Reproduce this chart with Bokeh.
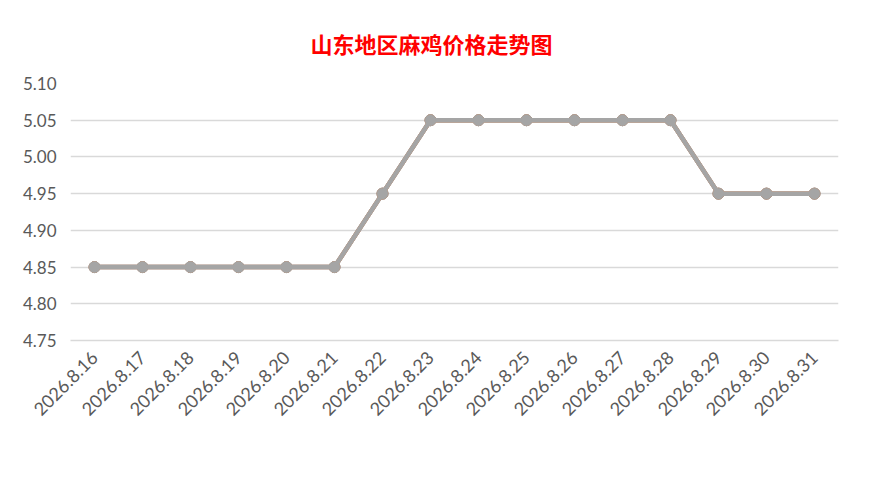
import math
from bokeh.plotting import figure
from bokeh.models import (ColumnDataSource, FactorRange, Range1d, Legend, LegendItem,
                          FixedTicker, NumeralTickFormatter, Title)
from bokeh.embed import file_html
from bokeh.resources import INLINE

dates = ["2026.8.16", "2026.8.17", "2026.8.18", "2026.8.19", "2026.8.20", "2026.8.21",
         "2026.8.22", "2026.8.23", "2026.8.24", "2026.8.25", "2026.8.26", "2026.8.27",
         "2026.8.28", "2026.8.29", "2026.8.30", "2026.8.31"]
ludong = [4.85, 4.85, 4.85, 4.85, 4.85, 4.85, 4.95, 5.05, 5.05, 5.05, 5.05, 5.05, 5.05, 4.95, 4.95, 4.95]
lunan = [4.85, 4.85, 4.85, 4.85, 4.85, 4.85, 4.95, 5.05, 5.05, 5.05, 5.05, 5.05, 5.05, 4.95, 4.95, 4.95]
luzhong = [4.85, 4.85, 4.85, 4.85, 4.85, 4.85, 4.95, 5.05, 5.05, 5.05, 5.05, 5.05, 5.05, 4.95, 4.95, 4.95]
series_names = ["鲁东(大小规格)", "鲁南(大小规格)", "鲁中(大小规格)"]
series_colors = ["#5B9BD5", "#ED7D31", "#A5A5A5"]
y_ticks = [4.75, 4.80, 4.85, 4.90, 4.95, 5.00, 5.05, 5.10]
title_text = "山东地区麻鸡价格走势图"

p = figure(frame_width=768, frame_height=257, x_range=FactorRange(*dates, range_padding=0),
           y_range=Range1d(4.75, 5.10), output_backend="svg", toolbar_location=None,
           min_border_left=70, min_border_right=31, min_border_top=79, min_border_bottom=142)
p.x_range.range_padding = 0
p.title = None
t = Title(text=title_text, align="left", text_color="#FF0000", text_font_size="22px",
          text_font="Noto Sans CJK SC", text_font_style="bold", standoff=49, offset=240)
p.add_layout(t, "above")

p.outline_line_color = None
p.background_fill_color = "white"
p.border_fill_color = "white"

p.xgrid.grid_line_color = None
p.ygrid.grid_line_color = "#D9D9D9"
p.ygrid.grid_line_width = 1.3
p.ygrid.ticker = FixedTicker(ticks=y_ticks)

p.yaxis.ticker = FixedTicker(ticks=y_ticks)
p.yaxis.formatter = NumeralTickFormatter(format="0.00")
p.yaxis.axis_line_color = None
p.yaxis.major_tick_line_color = None
p.yaxis.minor_tick_line_color = None
p.yaxis.major_label_text_font = "Lato"
p.yaxis.major_label_text_font_size = "17px"
p.yaxis.major_label_text_color = "#595959"
p.yaxis.major_label_standoff = 8

p.xaxis.axis_line_color = "#D9D9D9"
p.xaxis.axis_line_width = 1.3
p.xaxis.major_tick_line_color = None
p.xaxis.minor_tick_line_color = None
p.xaxis.major_label_orientation = math.pi / 4
p.xaxis.major_label_text_font = "Lato"
p.xaxis.major_label_text_font_size = "18px"
p.xaxis.major_label_text_color = "#595959"
p.xaxis.major_label_standoff = 8

items = []
for name, vals, col in zip(series_names, [ludong, lunan, luzhong], series_colors):
    src = ColumnDataSource(dict(x=dates, y=vals))
    ln = p.line("x", "y", source=src, line_color=col, line_width=4.5)
    sc = p.scatter("x", "y", source=src, size=11, fill_color=col, line_color=col)
    items.append(LegendItem(label=name, renderers=[ln, sc]))

legend = Legend(items=items, orientation="horizontal", location="center",
                label_text_font="Noto Sans CJK SC", label_text_font_size="19px",
                label_text_color="#595959", glyph_width=50, glyph_height=18,
                spacing=5, label_standoff=4, border_line_color=None,
                background_fill_alpha=0, margin=0, padding=0)
p.add_layout(legend, "below")

open("out.html", "w").write(file_html(p, INLINE))
